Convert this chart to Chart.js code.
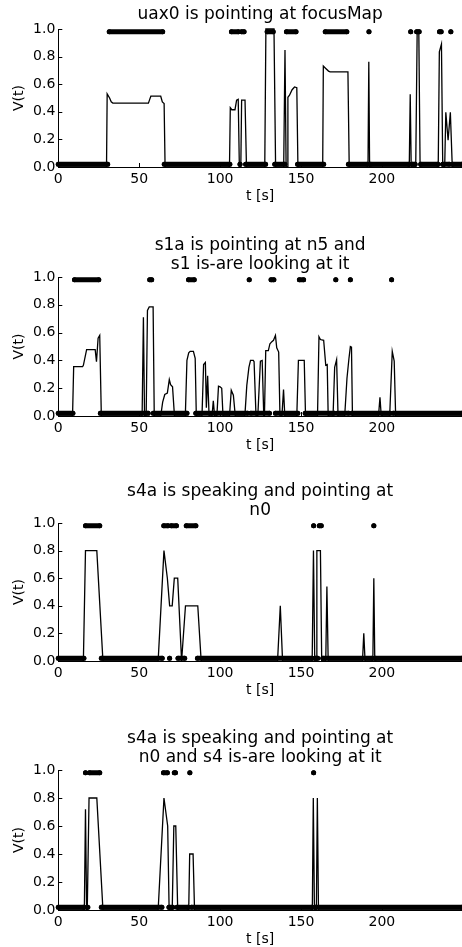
<!DOCTYPE html>
<html><head><meta charset="utf-8">
<script src="https://cdn.jsdelivr.net/npm/chart.js@4/dist/chart.umd.min.js"></script>
<style>
html,body{margin:0;padding:0;background:#fff;overflow:hidden;width:462px;height:947px;position:relative}
canvas{position:absolute;left:0}
</style></head>
<body>
<canvas id="c0"></canvas><canvas id="c1"></canvas><canvas id="c2"></canvas><canvas id="c3"></canvas>
<script>
// ---------------- DATA ----------------
const T_MAX = 249.5;
const X_TICKS = [0, 50, 100, 150, 200];
const Y_TICKS = [0, 0.2, 0.4, 0.6, 0.8, 1.0];
const X_LABEL = 't [s]';
const Y_LABEL = 'V(t)';
const ON_LEVEL = 0.98;
const OFF_LEVEL = 0.02;

const TITLE_1 = ['uax0 is pointing at focusMap'];
const TITLE_2 = ['s1a is pointing at n5 and', 's1 is-are looking at it'];
const TITLE_3 = ['s4a is speaking and pointing at', 'n0'];
const TITLE_4 = ['s4a is speaking and pointing at', 'n0 and s4 is-are looking at it'];

// V(t) breakpoints [t, v]
const V_1 = [[0,0],[29.8,0],[30.2,0.53],[31.7,0.5],[32.7,0.472],[33.7,0.463],[55.7,0.463],[56.5,0.49],[57.2,0.513],[63.3,0.513],[64.3,0.472],[65.4,0.46],[66,0],
 [105.8,0],[106.3,0.43],[107.2,0.415],[109.2,0.415],[110.2,0.484],[111.2,0.49],[111.9,0],[112.8,0],[113.3,0.484],[115.4,0.484],[116.3,0],
 [127.6,0],[128.3,1.0],[133.3,1.0],[134.3,0],
 [139.3,0],[140.1,0.847],[140.8,0],[141.4,0],[141.9,0.505],[142.9,0.52],[144.5,0.56],[146,0.58],[147.4,0.575],[148.1,0],
 [163.4,0],[163.8,0.731],[165.3,0.714],[167,0.695],[168,0.69],[179,0.69],[179.8,0],
 [191.4,0],[191.9,0.763],[192.4,0],
 [216.9,0],[217.5,0.527],[218.1,0],
 [220.9,0],[221.8,0.99],[222.8,0.99],[223.6,0],
 [234.8,0],[235.5,0.835],[236.8,0.89],[237.6,0],
 [238.8,0],[239.5,0.397],[240.9,0.194],[242.3,0.397],[243.5,0],
 [249.5,0]];
const V_2 = [[0,0],[8.8,0],[9.5,0.355],[15,0.355],[15.5,0.365],[17.5,0.478],[22.8,0.478],[23.6,0.39],[24.6,0.56],[25.6,0.58],[26.6,0],
 [51.8,0],[52.6,0.71],[53.3,0],[54.3,0],[55.1,0.76],[56.2,0.785],[58.6,0.785],[59.3,0],
 [63.3,0],[64.5,0.1],[65.8,0.155],[67.4,0.165],[68.6,0.262],[69.4,0.225],[70.6,0.21],[71.8,0],
 [78.5,0],[79.5,0.4],[80.6,0.455],[81.5,0.465],[83.5,0.465],[84.6,0.415],[85.3,0],
 [88.8,0],[89.8,0.37],[90.9,0.385],[91.5,0.06],[92.3,0.29],[93.2,0],
 [95,0],[95.8,0.11],[96.6,0],
 [98,0],[99,0.215],[100,0.21],[101,0.2],[101.8,0],
 [105.8,0],[106.9,0.185],[108.2,0.15],[109.4,0],
 [115.3,0],[116.5,0.22],[117.8,0.35],[118.8,0.4],[120.5,0.4],[121,0.39],[122.2,0],
 [123.3,0],[124.9,0.395],[126,0.4],[127,0],
 [127.4,0],[128.2,0.47],[129.8,0.47],[130.8,0.52],[132,0.535],[133,0.545],[134.2,0.58],[135,0.49],[136.2,0.46],[137,0],
 [138.2,0],[139.2,0.19],[140,0],
 [147.4,0],[148.4,0.4],[152,0.4],[152.8,0],
 [160.2,0],[161.1,0.57],[162,0.55],[164,0.545],[165.3,0.365],[166.2,0.37],[166.8,0],
 [169.8,0],[170.8,0.35],[172,0.405],[172.9,0],
 [177,0],[178.4,0.27],[179.6,0.41],[180.5,0.5],[181.2,0.495],[181.8,0],
 [197.9,0],[198.8,0.135],[199.6,0],
 [204.8,0],[206.4,0.465],[207.6,0.395],[208.5,0],
 [249.5,0]];
const V_3 = [[0,0],[15.5,0],[16.8,0.8],[23.8,0.8],[27.6,0],
 [61.7,0],[65.3,0.8],[67.4,0.6],[68.8,0.4],[70.4,0.4],[71.7,0.6],[73.8,0.6],[76.2,0],[78.6,0.4],[86.2,0.4],[88.3,0],
 [135.5,0],[137.2,0.4],[138.6,0],
 [156.9,0],[157.7,0.8],[158.5,0],[159.3,0],[159.8,0.8],[162,0.8],[162.8,0],
 [165.3,0],[166,0.54],[166.8,0],
 [188,0],[188.8,0.2],[189.6,0],
 [194.4,0],[195,0.6],[195.6,0],
 [249.5,0]];
const V_4 = [[0,0],[16.1,0],[16.8,0.72],[17.5,0],[17.9,0],[19,0.8],[23.8,0.8],[27.6,0],
 [61.7,0],[65.3,0.8],[67.6,0.6],[68.5,0],[70.4,0],[71.4,0.6],[72.6,0.6],[73.8,0],
 [80.6,0],[81.2,0.4],[83.3,0.4],[84.2,0],
 [157,0],[157.6,0.8],[158.3,0],[159.5,0],[160.1,0.8],[160.8,0],
 [249.5,0]];

// time runs [start, end] where the observation is "on" (dots at top); elsewhere dots at bottom
const ON_1 = [[31.5,64.5],[107,111.3],[113.3,114.8],[129.1,132.8],[141,146.9],[165,178.3],[192,192],[217.8,217.8],[221.5,223],[235.6,236.6],[242.6,242.6]];
const ON_2 = [[10,25],[56.5,57.7],[80.5,84],[118,118],[131.5,133.2],[149,151.6],[171.5,171.5],[180.5,180.5],[206,206]];
const ON_3 = [[16.8,25.6],[65.2,67.8],[69.8,73],[79.1,85],[157.8,157.8],[161.3,162.5],[195,195]];
const ON_4 = [[16.8,16.8],[19.3,25.6],[65,67.4],[71.7,72.4],[81.3,81.3],[157.8,157.8]];

// ---------------- LAYOUT / STYLE ----------------
const PANELS = [
  {title: TITLE_1, v: V_1, on: ON_1, areaTop: 29,    areaBottom: 166.7, titleY: 14.7},
  {title: TITLE_2, v: V_2, on: ON_2, areaTop: 276.6, areaBottom: 415.4, titleY: 244.7},
  {title: TITLE_3, v: V_3, on: ON_3, areaTop: 523.3, areaBottom: 661.7, titleY: 491.7},
  {title: TITLE_4, v: V_4, on: ON_4, areaTop: 770,   areaBottom: 909.5, titleY: 739},
];
const CW = 466, Y_AXIS_W = 58.3, X_AXIS_H = 38, TITLE_LH = 19, GAP = 1.0;
const FONT = 'DejaVu Sans';

function offRuns(on, max, g) {
  const r = []; let s = 0;
  on.forEach(([a, b]) => {
    const e = a - g;
    if (e >= s) r.push([s, e]);
    s = b + g;
  });
  if (s < max) r.push([s, max]);
  return r;
}
function runsToData(runs, level) {
  const d = [];
  runs.forEach(([a, b]) => {
    d.push({x: a, y: level});
    if (b > a) d.push({x: b, y: level});
    d.push({x: b + 0.01, y: null});
  });
  return d;
}

const inTicks = {
  id: 'inTicks',
  afterDatasetsDraw(chart) {
    const {ctx, chartArea: a, scales: {x, y}} = chart;
    ctx.save();
    ctx.strokeStyle = '#000'; ctx.lineWidth = 1;
    ctx.beginPath();
    x.ticks.forEach(t => { const p = Math.round(x.getPixelForValue(t.value)) + 0.5; ctx.moveTo(p, a.bottom); ctx.lineTo(p, a.bottom - 4); });
    y.ticks.forEach(t => { const p = Math.round(y.getPixelForValue(t.value)) + 0.5; ctx.moveTo(a.left, p); ctx.lineTo(a.left + 4, p); });
    ctx.stroke();
    ctx.restore();
  }
};

Chart.defaults.font.family = FONT;
Chart.defaults.color = '#000';

PANELS.forEach((P, i) => {
  const T = Math.max(0, P.areaTop - 70);
  const H = P.areaBottom - T + X_AXIS_H;
  const cv = document.getElementById('c' + i);
  cv.width = CW; cv.height = Math.round(H);
  cv.style.top = T + 'px';
  cv.style.width = CW + 'px'; cv.style.height = Math.round(H) + 'px';
  const nL = P.title.length;
  const pt = P.titleY - T - TITLE_LH / 2;
  const pb = P.areaTop - T - pt - nL * TITLE_LH;

  const offData = runsToData(offRuns(P.on, T_MAX, GAP), OFF_LEVEL);
  const onData = runsToData(P.on, ON_LEVEL);
  const dotStyle = {
    borderColor: '#000', backgroundColor: '#000', borderWidth: 5,
    borderCapStyle: 'round', borderJoinStyle: 'round',
    pointRadius: 2.5, pointBorderWidth: 0, pointBackgroundColor: '#000',
    spanGaps: false, clip: false, tension: 0
  };

  new Chart(cv, {
    type: 'line',
    data: {
      datasets: [
        Object.assign({data: offData}, dotStyle),
        Object.assign({data: onData}, dotStyle),
        {data: P.v.map(([t, v]) => ({x: t, y: v})), borderColor: '#000', borderWidth: 1.3,
         pointRadius: 0, tension: 0, clip: false}
      ]
    },
    options: {
      responsive: false, animation: false, devicePixelRatio: 1,
      layout: {padding: {top: pt, left: 0, right: 0, bottom: 0}},
      plugins: {
        legend: {display: false}, tooltip: {enabled: false},
        title: {display: true, text: P.title, fullSize: false, color: '#000',
          font: {family: FONT, size: 17, weight: 'normal', lineHeight: TITLE_LH / 17},
          padding: {top: 0, bottom: pb}}
      },
      scales: {
        x: {
          type: 'linear', min: 0, max: T_MAX,
          afterBuildTicks: s => { s.ticks = X_TICKS.map(v => ({value: v})); },
          afterFit: s => { s.height = X_AXIS_H; },
          grid: {display: false, drawTicks: false},
          border: {display: true, color: '#000', width: 1},
          ticks: {font: {family: FONT, size: 14}, color: '#000', padding: 4, maxRotation: 0, autoSkip: false,
                  callback: v => String(v)},
          title: {display: true, text: X_LABEL, font: {family: FONT, size: 14}, color: '#000', padding: {top: 0, bottom: 0}}
        },
        y: {
          type: 'linear', min: 0, max: 1,
          afterBuildTicks: s => { s.ticks = Y_TICKS.map(v => ({value: v})); },
          afterFit: s => { s.width = Y_AXIS_W; },
          grid: {display: false, drawTicks: false},
          border: {display: true, color: '#000', width: 1},
          ticks: {font: {family: FONT, size: 14}, color: '#000', padding: 3,
                  callback: v => Number(v).toFixed(1)},
          title: {display: true, text: Y_LABEL, font: {family: FONT, size: 14}, color: '#000', padding: {top: 10.6, bottom: 0}}
        }
      }
    },
    plugins: [inTicks]
  });
});
</script>
</body></html>
